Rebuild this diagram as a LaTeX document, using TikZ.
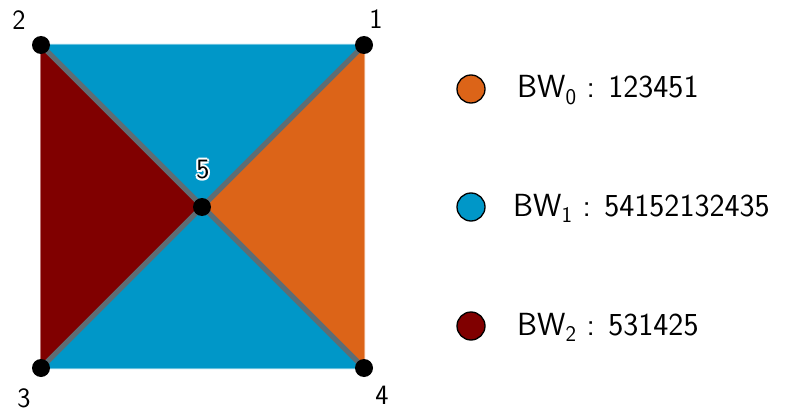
\documentclass[tikz,border=0pt]{standalone}
\usepackage{fontspec}
\setsansfont{Latin Modern Sans}
\definecolor{bworange}{HTML}{DC6418}
\definecolor{bwblue}{HTML}{0097C8}
\definecolor{bwred}{HTML}{800000}
\definecolor{edgegray}{HTML}{5E6D74}
\begin{document}
\begin{tikzpicture}[x=1pt,y=-1pt,
  vtx/.style={circle,fill=black,inner sep=0pt,minimum size=18pt},
  lbl/.style={font=\sffamily\fontsize{28}{32}\selectfont,inner sep=0pt},
  legdot/.style={circle,draw=black,line width=1.3pt,inner sep=0pt,minimum size=28pt},
  legtxt/.style={font=\sffamily\fontsize{32}{38}\selectfont,inner sep=0pt,anchor=base west},
  face/.style={fill=#1,draw=#1,draw opacity=0.55,line width=2pt,line join=miter},
  diag/.style={draw=edgegray,line width=5pt}]
\useasboundingbox (0,0) rectangle (785,412);
\coordinate (c1) at (364,45);
\coordinate (c2) at (41,45);
\coordinate (c3) at (41,368);
\coordinate (c4) at (364,368);
\coordinate (c5) at (202,207);
% faces
\path[face=bwblue] (c2) -- (c1) -- (c5) -- cycle;
\path[face=bwblue] (c3) -- (c4) -- (c5) -- cycle;
\path[face=bworange] (c1) -- (c4) -- (c5) -- cycle;
\path[face=bwred] (c2) -- (c3) -- (c5) -- cycle;
% edges
\draw[diag] (c2) -- (c4);
\draw[diag] (c1) -- (c3);
% vertices
\node[vtx] (v1) at (c1) {};
\node[vtx] (v2) at (c2) {};
\node[vtx] (v3) at (c3) {};
\node[vtx] (v4) at (c4) {};
\node[vtx] (v5) at (c5) {};
% labels
\node[lbl] (l1) at (376,19) {1};
\node[lbl] (l2) at (19,20) {2};
\node[lbl] (l3) at (24,398) {3};
\node[lbl] (l4) at (382,395) {4};
\foreach \dx/\dy in {-2/0,2/0,0/-2,0/2,-1.5/-1.5,1.5/-1.5,-1.5/1.5,1.5/1.5}
  \node[lbl,text=white] at (203+\dx,170+\dy) {5};
\node[lbl] (l5) at (203,170) {5};
% legend
\node[legdot,fill=bworange] (d0) at (471,89) {};
\node[legdot,fill=bwblue] (d1) at (471,207) {};
\node[legdot,fill=bwred] (d2) at (471,326) {};
\node[legtxt] (t0) at (517,98) {BW\textsubscript{0} : 123451};
\node[legtxt] (t1) at (513,216) {BW\textsubscript{1} : 54152132435};
\node[legtxt] (t2) at (517,335) {BW\textsubscript{2} : 531425};
\end{tikzpicture}
\end{document}
